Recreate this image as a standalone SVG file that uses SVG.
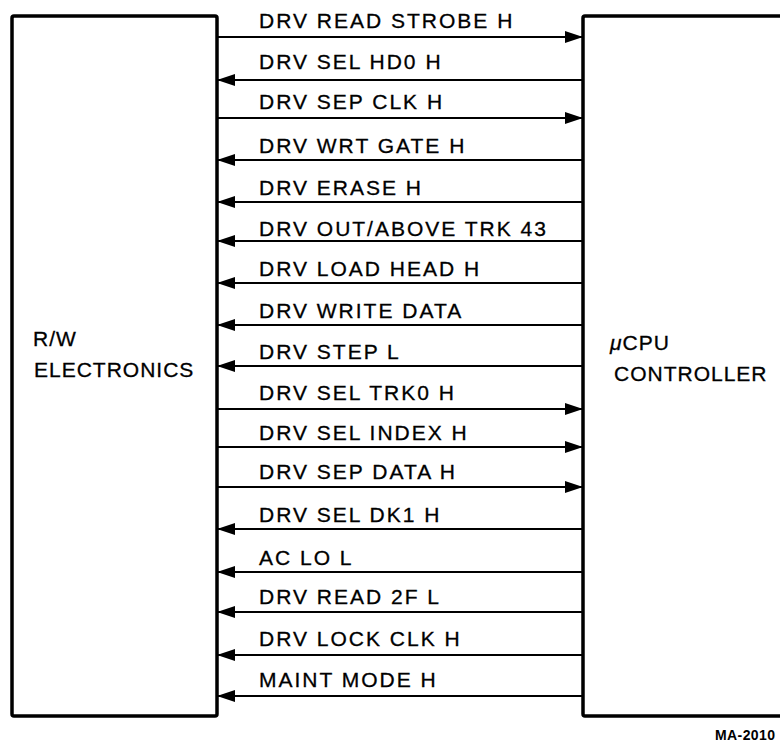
<svg xmlns="http://www.w3.org/2000/svg" width="780" height="743" viewBox="0 0 780 743">
<style>
.box{fill:#fff;stroke:#000;stroke-width:3.5;stroke-linejoin:round}
.sig{stroke:#000;stroke-width:2;fill:none}
.lbl{font-family:"Liberation Sans",Arial,sans-serif;font-size:21px;letter-spacing:2px;fill:#000;stroke:#000;stroke-width:0.3}
.blbl{font-family:"Liberation Sans",Arial,sans-serif;font-size:21px;letter-spacing:1px;fill:#000;stroke:#000;stroke-width:0.3}
.note{font-family:"Liberation Sans",Arial,sans-serif;font-size:14px;font-weight:bold;letter-spacing:0.4px;fill:#000}
</style>
<defs>
<marker id="ah" markerUnits="userSpaceOnUse" markerWidth="18" markerHeight="12" refX="18" refY="6" orient="auto">
<path d="M0,0 L18,6 L0,12 z" fill="#000"/>
</marker>
</defs>
<rect width="780" height="743" fill="#fff"/>
<g id="rw-electronics">
<rect class="box" x="12" y="16" width="205" height="700" rx="2"/>
<text class="blbl" x="33" y="346">R/W</text>
<text class="blbl" x="34" y="377">ELECTRONICS</text>
</g>
<g id="ucpu-controller">
<rect class="box" x="583" y="16" width="230" height="700" rx="2"/>
<text class="blbl" x="610" y="350"><tspan font-style="italic">μ</tspan>CPU</text>
<text class="blbl" x="614" y="381">CONTROLLER</text>
</g>
<g id="connectors">
<line class="sig" x1="217" y1="37" x2="583" y2="37" marker-end="url(#ah)"/>
<line class="sig" x1="583" y1="80" x2="217" y2="80" marker-end="url(#ah)"/>
<line class="sig" x1="217" y1="118" x2="583" y2="118" marker-end="url(#ah)"/>
<line class="sig" x1="583" y1="160" x2="217" y2="160" marker-end="url(#ah)"/>
<line class="sig" x1="583" y1="202" x2="217" y2="202" marker-end="url(#ah)"/>
<line class="sig" x1="583" y1="241" x2="217" y2="241" marker-end="url(#ah)"/>
<line class="sig" x1="583" y1="283" x2="217" y2="283" marker-end="url(#ah)"/>
<line class="sig" x1="583" y1="325" x2="217" y2="325" marker-end="url(#ah)"/>
<line class="sig" x1="583" y1="366" x2="217" y2="366" marker-end="url(#ah)"/>
<line class="sig" x1="217" y1="409" x2="583" y2="409" marker-end="url(#ah)"/>
<line class="sig" x1="217" y1="447" x2="583" y2="447" marker-end="url(#ah)"/>
<line class="sig" x1="217" y1="487" x2="583" y2="487" marker-end="url(#ah)"/>
<line class="sig" x1="583" y1="529" x2="217" y2="529" marker-end="url(#ah)"/>
<line class="sig" x1="583" y1="572" x2="217" y2="572" marker-end="url(#ah)"/>
<line class="sig" x1="583" y1="612" x2="217" y2="612" marker-end="url(#ah)"/>
<line class="sig" x1="583" y1="655" x2="217" y2="655" marker-end="url(#ah)"/>
<line class="sig" x1="583" y1="696" x2="217" y2="696" marker-end="url(#ah)"/>
</g>
<g id="labels">
<text class="lbl" x="259" y="28">DRV READ STROBE H</text>
<text class="lbl" x="259" y="69">DRV SEL HD0 H</text>
<text class="lbl" x="259" y="109">DRV SEP CLK H</text>
<text class="lbl" x="259" y="153">DRV WRT GATE H</text>
<text class="lbl" x="259" y="195">DRV ERASE H</text>
<text class="lbl" x="259" y="236">DRV OUT/ABOVE TRK 43</text>
<text class="lbl" x="259" y="276">DRV LOAD HEAD H</text>
<text class="lbl" x="259" y="318">DRV WRITE DATA</text>
<text class="lbl" x="259" y="359">DRV STEP L</text>
<text class="lbl" x="259" y="400">DRV SEL TRK0 H</text>
<text class="lbl" x="259" y="440">DRV SEL INDEX H</text>
<text class="lbl" x="259" y="479">DRV SEP DATA H</text>
<text class="lbl" x="259" y="522">DRV SEL DK1 H</text>
<text class="lbl" x="259" y="565">AC LO L</text>
<text class="lbl" x="259" y="604">DRV READ 2F L</text>
<text class="lbl" x="259" y="646">DRV LOCK CLK H</text>
<text class="lbl" x="259" y="687">MAINT MODE H</text>
</g>
<text class="note" x="715" y="740">MA-2010</text>
</svg>
